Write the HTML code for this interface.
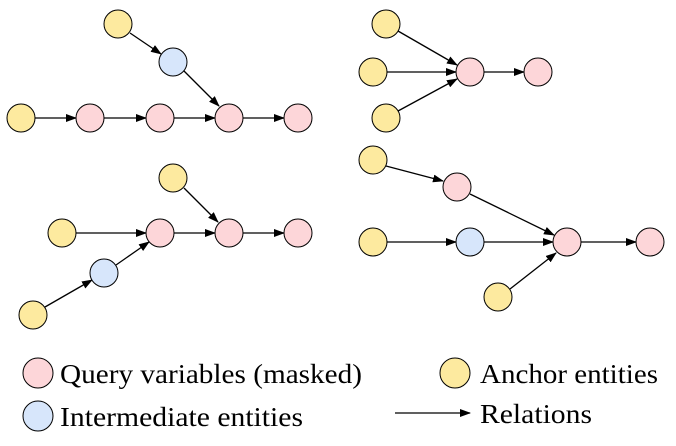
<!DOCTYPE html>
<html><head><meta charset="utf-8"><style>
html,body{margin:0;padding:0;background:#fff}
svg{display:block}
text{font-family:"Liberation Serif",serif;font-size:27px;fill:#000}
</style></head><body>
<svg width="676" height="446" viewBox="0 0 676 446" xmlns="http://www.w3.org/2000/svg">
<defs>
<marker id="a" markerWidth="11" markerHeight="8" refX="10" refY="4" orient="auto" markerUnits="userSpaceOnUse">
<path d="M0,0 L11,4 L0,8 z" fill="#000"/></marker>
</defs>
<g stroke="#000" stroke-width="1.3" marker-end="url(#a)">
<line x1="130" y1="33" x2="161" y2="54"/>
<line x1="184" y1="71" x2="219" y2="106"/>
<line x1="35" y1="118" x2="76" y2="118"/>
<line x1="104" y1="118" x2="146" y2="118"/>
<line x1="174" y1="118" x2="215" y2="118"/>
<line x1="243" y1="118" x2="284" y2="118"/>
<line x1="398" y1="31" x2="457" y2="65"/>
<line x1="387" y1="72" x2="456" y2="72"/>
<line x1="398" y1="111" x2="457" y2="79"/>
<line x1="484" y1="72" x2="524" y2="72"/>
<line x1="184" y1="188" x2="218" y2="222"/>
<line x1="76" y1="233" x2="146" y2="233"/>
<line x1="174" y1="233" x2="215" y2="233"/>
<line x1="243" y1="233" x2="284" y2="233"/>
<line x1="45" y1="307" x2="92" y2="280"/>
<line x1="116" y1="265" x2="149" y2="242"/>
<line x1="386" y1="166" x2="443" y2="181"/>
<line x1="470" y1="194" x2="554" y2="235"/>
<line x1="387" y1="242" x2="456" y2="242"/>
<line x1="484" y1="242" x2="553" y2="242"/>
<line x1="581" y1="242" x2="636" y2="242"/>
<line x1="510" y1="289" x2="556" y2="253"/>
<line x1="395" y1="413" x2="470" y2="413"/>
</g>
<g stroke="#000" stroke-width="1">
<g fill="#fdea9f">
<circle cx="118" cy="24" r="14"/><circle cx="21" cy="118" r="14"/>
<circle cx="386" cy="24" r="14"/><circle cx="373" cy="72" r="14"/><circle cx="386" cy="118" r="14"/>
<circle cx="173" cy="178" r="14"/><circle cx="62" cy="233" r="14"/><circle cx="33" cy="315" r="14"/>
<circle cx="373" cy="160" r="14"/><circle cx="373" cy="242" r="14"/><circle cx="498" cy="297" r="14"/>
<circle cx="455" cy="373" r="15"/>
</g>
<g fill="#d7e6fb">
<circle cx="173" cy="62" r="14"/><circle cx="104" cy="273" r="14"/><circle cx="470" cy="242" r="14"/>
<circle cx="38" cy="416" r="15"/>
</g>
<g fill="#fdd6d9">
<circle cx="90" cy="118" r="14"/><circle cx="160" cy="118" r="14"/><circle cx="229" cy="118" r="14"/><circle cx="298" cy="118" r="14"/>
<circle cx="470" cy="72" r="14"/><circle cx="538" cy="72" r="14"/>
<circle cx="160" cy="233" r="14"/><circle cx="229" cy="233" r="14"/><circle cx="298" cy="233" r="14"/>
<circle cx="457" cy="187" r="14"/><circle cx="567" cy="242" r="14"/><circle cx="650" cy="242" r="14"/>
<circle cx="38" cy="373" r="15"/>
</g>
</g>
<text x="60" y="383" textLength="302" lengthAdjust="spacingAndGlyphs">Query variables (masked)</text>
<text x="480" y="383" textLength="178" lengthAdjust="spacingAndGlyphs">Anchor entities</text>
<text x="60" y="426" textLength="243" lengthAdjust="spacingAndGlyphs">Intermediate entities</text>
<text x="480" y="423" textLength="112" lengthAdjust="spacingAndGlyphs">Relations</text>
</svg>
</body></html>
